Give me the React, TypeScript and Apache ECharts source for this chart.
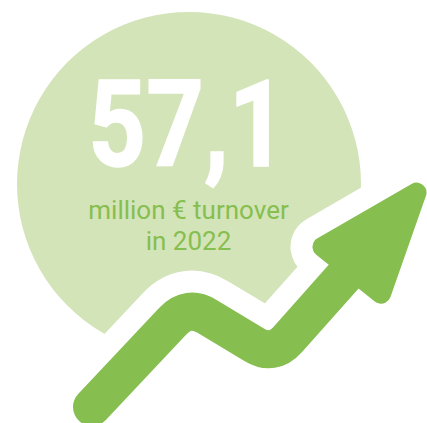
import React, { useEffect, useRef } from 'react';
import * as echarts from 'echarts';

// Background disc: centre (x, y) and radius, in the chart's unit space
const discCenterX = [189];
const discCenterY = [184];
const discRadius = [172];

// Trend arrow centre line (start, peak, valley, end inside the head)
const arrowX = [92, 188, 273, 370];
const arrowY = [407, 305, 356, 247];

// Arrow head triangle (sharp corners)
const headX = [304.8, 434.9, 385.8];
const headY = [245.5, 170.4, 310.3];

// Texts
const bigNumber = '57,1';
const subtitleLines = ['million € turnover', 'in 2022'];

const LIGHT = '#d4e4b9';
const GREEN = '#86be4f';
const TEXT_GREEN = '#86be4f';

const W = 427;
const H = 423;

function unit(ax: number, ay: number) {
  const l = Math.hypot(ax, ay) || 1;
  return [ax / l, ay / l];
}

function buildPath(pts: number[][], t: number) {
  let d = `M${pts[0][0]},${pts[0][1]}`;
  for (let i = 1; i < pts.length - 1; i++) {
    const p = pts[i];
    const u1 = unit(pts[i - 1][0] - p[0], pts[i - 1][1] - p[1]);
    const u2 = unit(pts[i + 1][0] - p[0], pts[i + 1][1] - p[1]);
    const a = [p[0] + u1[0] * t, p[1] + u1[1] * t];
    const b = [p[0] + u2[0] * t, p[1] + u2[1] * t];
    d += ` L${a[0]},${a[1]} Q${p[0]},${p[1]} ${b[0]},${b[1]}`;
  }
  const last = pts[pts.length - 1];
  d += ` L${last[0]},${last[1]}`;
  return d;
}

function insetTriangle(v: number[][], r: number) {
  const [A, B, C] = v;
  const a = Math.hypot(B[0] - C[0], B[1] - C[1]);
  const b = Math.hypot(A[0] - C[0], A[1] - C[1]);
  const c = Math.hypot(A[0] - B[0], A[1] - B[1]);
  const p = a + b + c;
  const ix = (a * A[0] + b * B[0] + c * C[0]) / p;
  const iy = (a * A[1] + b * B[1] + c * C[1]) / p;
  const area = Math.abs((B[0] - A[0]) * (C[1] - A[1]) - (B[1] - A[1]) * (C[0] - A[0])) / 2;
  const rho = (2 * area) / p;
  const k = (rho - r) / rho;
  return v.map((q) => [ix + (q[0] - ix) * k, iy + (q[1] - iy) * k]);
}

export default function App() {
  const ref = useRef<HTMLDivElement>(null);

  useEffect(() => {
    if (!ref.current) return;
    document.body.style.margin = '0';
    document.body.style.overflow = 'hidden';
    const chart = echarts.init(ref.current, undefined, { renderer: 'svg', width: W, height: H });

    const discData = discCenterX.map((x, i) => [x, discCenterY[i], discRadius[i]]);
    const arrowData = arrowX.map((x, i) => [x, arrowY[i]]);
    const headData = headX.map((x, i) => [x, headY[i]]);

    chart.setOption({
      animation: false,
      backgroundColor: '#ffffff',
      grid: { left: 0, top: 0, right: 0, bottom: 0 },
      xAxis: { type: 'value', min: 0, max: W, show: false },
      yAxis: { type: 'value', min: 0, max: H, inverse: true, show: false },
      tooltip: { show: false },
      series: [
        {
          type: 'custom',
          clip: false,
          silent: true,
          data: discData,
          renderItem: (params: any, api: any) => {
            const c = api.coord([api.value(0), api.value(1)]);
            const r = api.size([api.value(2), 0])[0];
            return {
              type: 'circle',
              shape: { cx: c[0], cy: c[1], r },
              style: { fill: LIGHT },
            };
          },
        },
        {
          type: 'custom',
          clip: false,
          silent: true,
          z: 5,
          data: [[0, 0]],
          renderItem: (params: any, api: any) => {
            const pts = arrowData.map((p) => api.coord(p));
            const head = headData.map((p) => api.coord(p));
            const inner = insetTriangle(head, 10);
            const d = buildPath(pts, 22);
            return {
              type: 'group',
              children: [
                {
                  type: 'path',
                  shape: { pathData: d },
                  style: { fill: 'none', stroke: '#ffffff', lineWidth: 82, lineCap: 'round', lineJoin: 'round' },
                },
                {
                  type: 'polygon',
                  shape: { points: inner },
                  style: { fill: '#ffffff', stroke: '#ffffff', lineWidth: 64, lineJoin: 'round' },
                },
                {
                  type: 'path',
                  shape: { pathData: d },
                  style: { fill: 'none', stroke: GREEN, lineWidth: 38, lineCap: 'round', lineJoin: 'round' },
                },
                {
                  type: 'polygon',
                  shape: { points: inner },
                  style: { fill: GREEN, stroke: GREEN, lineWidth: 20, lineJoin: 'round' },
                },
              ],
            };
          },
        },
      ],
      graphic: [
        {
          type: 'text',
          x: 187.5,
          y: 125,
          scaleX: 0.84,
          z: 100,
          silent: true,
          style: {
            text: bigNumber,
            fill: '#ffffff',
            stroke: '#ffffff',
            lineWidth: 1.5,
            font: 'bold 120px Roboto',
            align: 'center',
            textAlign: 'center',
            verticalAlign: 'middle',
            textVerticalAlign: 'middle',
          },
        },
        ...subtitleLines.map((line, i) => ({
          type: 'text',
          x: 188.5,
          y: 209.5 + i * 31,
          z: 100,
          silent: true,
          style: {
            text: line,
            fill: TEXT_GREEN,
            font: '26px Roboto',
            align: 'center',
            textAlign: 'center',
            verticalAlign: 'middle',
            textVerticalAlign: 'middle',
          },
        })),
      ],
    });

    return () => chart.dispose();
  }, []);

  return (
    <div
      ref={ref}
      style={{ position: 'absolute', left: 0, top: 0, width: W, height: H }}
    />
  );
}
